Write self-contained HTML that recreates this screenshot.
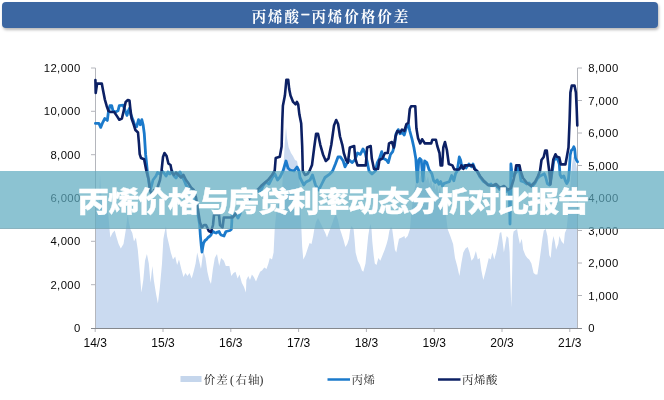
<!DOCTYPE html>
<html lang="zh-CN">
<head>
<meta charset="utf-8">
<title>丙烯价格与房贷利率动态分析对比报告</title>
<style>
html,body{margin:0;padding:0;background:#fff;}
body{width:664px;height:400px;position:relative;overflow:hidden;font-family:"Liberation Sans","Noto Sans CJK SC",sans-serif;}
.hdr{position:absolute;left:2px;top:2px;width:656px;height:26px;background:#3c67a2;border-radius:4px;box-shadow:1px 2px 3px rgba(0,0,0,.28);color:#fff;text-align:center;line-height:31.8px;font-family:"Liberation Serif","Noto Serif CJK SC",serif;font-weight:700;font-size:14.5px;letter-spacing:2px;text-indent:2px;}
.band{position:absolute;left:0;top:171px;width:664px;height:57px;background:rgba(91,169,191,.7);border-bottom:1px solid rgba(110,160,175,.8);background-clip:padding-box;}
.band span{position:absolute;left:0;right:0;top:0;height:58px;line-height:63px;text-align:center;color:#fff;-webkit-text-stroke:.35px #fff;font-weight:900;font-size:28px;letter-spacing:-1.45px;transform:translateX(1px) scaleX(1.13);transform-origin:334px 50%;font-family:"Liberation Sans","Noto Sans CJK SC",sans-serif;white-space:nowrap;}
</style>
</head>
<body>
<div class="hdr">丙烯酸<span style="margin:0 .5px;position:relative;top:-3.8px;-webkit-text-stroke:.5px #fff">–</span>丙烯价格价差</div>
<svg width="664" height="400" viewBox="0 0 664 400" style="position:absolute;left:0;top:0">
<path d="M95.5 205.0 L97.0 200.0 L98.5 203.0 L99.5 190.0 L100.0 174.0 L100.8 190.0 L102.0 201.0 L104.0 198.0 L106.0 204.0 L108.4 215.0 L109.5 229.0 L110.3 237.4 L112.5 233.0 L114.7 230.5 L116.6 237.4 L118.6 244.0 L120.8 248.4 L123.5 244.0 L125.7 230.5 L127.0 220.0 L127.8 214.0 L128.8 222.0 L130.4 229.0 L132.3 233.0 L134.0 241.5 L135.9 237.4 L137.8 249.8 L139.5 269.0 L141.4 292.4 L143.3 280.0 L145.0 260.8 L146.9 253.9 L148.8 263.5 L150.5 282.8 L152.4 266.0 L153.8 280.0 L156.0 293.8 L157.9 303.4 L159.8 288.0 L162.0 263.5 L163.4 238.8 L165.3 229.0 L166.0 226.0 L167.0 236.0 L168.9 244.0 L170.8 252.5 L173.0 259.4 L175.2 256.6 L177.1 264.9 L179.0 259.4 L181.3 269.0 L183.5 277.0 L185.4 273.0 L187.5 275.9 L189.5 273.0 L191.7 278.6 L193.6 271.8 L195.6 263.5 L197.2 252.5 L199.1 260.8 L201.0 269.0 L203.3 251.0 L205.5 258.0 L207.4 271.8 L209.3 280.0 L211.0 284.0 L212.9 269.0 L214.8 258.0 L217.0 253.9 L219.2 266.0 L221.1 258.0 L223.9 260.8 L225.8 266.0 L229.4 266.0 L231.3 275.9 L233.5 273.0 L235.5 271.8 L237.6 278.6 L239.5 274.5 L241.8 282.8 L244.0 286.9 L245.9 292.4 L246.4 280.0 L248.3 275.9 L250.0 280.0 L251.9 274.5 L253.8 277.0 L256.0 281.4 L258.2 275.9 L260.1 271.8 L262.0 270.4 L264.3 267.6 L266.5 269.0 L268.4 263.5 L269.8 258.0 L272.0 259.4 L273.6 252.5 L274.7 229.0 L276.0 215.0 L278.0 205.0 L280.0 200.0 L282.0 190.0 L283.5 165.0 L285.0 140.0 L286.0 127.0 L287.0 138.0 L288.7 147.5 L291.0 153.0 L293.0 156.0 L295.0 160.0 L297.0 161.0 L299.0 171.0 L300.0 190.0 L301.4 229.0 L302.2 247.0 L303.3 259.4 L305.5 255.3 L307.7 248.4 L309.6 242.9 L311.5 244.0 L313.2 236.0 L314.3 229.0 L316.0 222.0 L318.0 218.0 L320.0 222.0 L322.0 226.0 L323.4 229.0 L325.3 233.0 L327.0 237.4 L328.9 232.0 L330.2 229.0 L332.0 224.0 L334.0 218.0 L336.0 214.0 L338.0 220.0 L339.9 229.0 L341.3 233.0 L343.5 240.0 L345.4 247.0 L347.3 244.0 L349.0 238.8 L350.0 230.5 L351.5 226.0 L353.6 229.0 L354.5 238.8 L355.6 252.5 L357.8 260.8 L360.0 264.9 L361.9 270.4 L363.3 271.8 L365.5 263.5 L366.6 252.5 L368.2 236.0 L369.3 229.0 L370.3 224.0 L371.5 229.0 L372.3 241.5 L373.7 255.3 L374.8 263.5 L376.5 264.9 L378.4 258.0 L380.3 260.8 L382.5 255.3 L384.7 249.8 L386.6 244.0 L388.0 238.8 L389.4 230.5 L391.0 227.0 L392.2 229.0 L393.5 238.8 L394.9 249.8 L396.3 252.5 L397.6 245.6 L399.0 238.8 L401.8 237.4 L404.5 236.0 L405.0 238.8 L407.7 236.0 L410.0 229.0 L411.0 216.0 L412.5 203.0 L414.0 192.0 L415.5 184.0 L417.0 177.0 L418.0 187.0 L419.0 179.0 L420.5 175.0 L422.0 185.0 L423.5 178.0 L425.0 174.0 L426.5 181.0 L428.0 176.0 L429.5 184.0 L431.0 178.0 L432.5 187.0 L434.0 181.0 L435.5 190.0 L437.0 184.0 L438.5 193.0 L440.0 187.0 L441.5 197.0 L443.0 191.0 L444.5 204.0 L446.0 215.0 L447.6 229.0 L450.3 236.0 L453.1 244.0 L455.0 258.0 L457.2 266.0 L459.4 275.9 L461.3 263.5 L463.3 252.5 L465.5 248.4 L467.7 247.0 L469.6 252.5 L471.5 260.8 L473.7 258.0 L475.9 251.0 L477.8 259.4 L479.7 258.0 L481.4 270.4 L483.3 280.0 L485.2 273.0 L486.9 266.0 L488.8 258.0 L490.7 259.4 L492.4 252.5 L494.3 259.4 L496.2 252.5 L497.9 244.0 L499.8 233.0 L501.2 232.0 L502.6 241.5 L503.9 252.5 L505.3 244.0 L506.7 236.0 L508.4 238.0 L509.6 252.0 L510.5 285.0 L511.3 307.5 L512.0 280.0 L512.9 236.0 L513.6 231.5 L514.9 230.5 L517.1 229.0 L518.2 236.0 L519.9 244.0 L521.8 238.8 L523.2 249.8 L525.4 255.3 L527.3 258.0 L529.2 259.4 L531.4 263.5 L533.6 273.0 L535.5 274.5 L537.4 274.5 L539.1 263.5 L541.0 249.8 L542.4 238.8 L543.8 230.5 L545.7 229.0 L547.4 236.0 L549.3 255.3 L550.7 258.0 L552.0 244.0 L553.4 236.0 L554.8 241.5 L556.1 249.8 L558.3 244.0 L559.4 236.0 L561.6 241.5 L563.8 244.0 L564.9 233.0 L566.6 229.0 L568.0 215.0 L570.0 190.0 L572.0 165.0 L573.5 156.0 L575.0 160.0 L576.5 166.0 L577.5 172.0 L577.5 328 L95.5 328 Z" fill="#cadaf0"/>
<g stroke="#b4b6bc" stroke-width="1" fill="none">
<path d="M95.5 68 V328 M577.5 68 V328"/>
<path d="M91 328.5 H582" stroke="#85888d"/>
<path d="M91 68.0 H95.5"/>
<path d="M91 111.3 H95.5"/>
<path d="M91 154.7 H95.5"/>
<path d="M91 198.0 H95.5"/>
<path d="M91 241.3 H95.5"/>
<path d="M91 284.7 H95.5"/>
<path d="M577.5 68.0 H582"/>
<path d="M577.5 100.5 H582"/>
<path d="M577.5 133.0 H582"/>
<path d="M577.5 165.5 H582"/>
<path d="M577.5 198.0 H582"/>
<path d="M577.5 230.5 H582"/>
<path d="M577.5 263.0 H582"/>
<path d="M577.5 295.5 H582"/>
<path d="M95.2 329 V332"/>
<path d="M163.0 329 V332"/>
<path d="M230.8 329 V332"/>
<path d="M298.6 329 V332"/>
<path d="M366.4 329 V332"/>
<path d="M434.2 329 V332"/>
<path d="M502.0 329 V332"/>
<path d="M569.8 329 V332"/>
</g>
<path d="M95.4 123.4 L98.9 123.4 L100.7 127.4 L102.8 122.3 L104.8 118.5 L107.3 120.5 L108.4 112.0 L109.9 105.7 L111.7 105.7 L113.0 110.8 L115.5 112.0 L118.0 110.8 L119.3 105.7 L123.2 105.2 L125.2 110.8 L127.0 115.4 L128.3 110.8 L129.5 108.3 L130.8 114.6 L132.9 119.7 L134.6 124.8 L136.7 126.6 L138.5 119.7 L140.3 124.8 L141.8 119.7 L143.1 124.8 L144.3 133.8 L145.6 154.2 L147.4 172.0 L148.6 180.0 L150.0 190.0 L151.5 186.0 L153.0 180.0 L156.0 176.0 L157.5 172.5 L160.0 174.0 L162.0 171.0 L164.0 173.0 L166.0 176.0 L168.0 172.0 L170.0 174.0 L172.0 171.0 L174.0 176.0 L176.0 178.0 L178.0 174.0 L180.0 172.0 L182.0 176.0 L184.0 180.0 L186.0 185.0 L188.0 188.0 L190.0 192.0 L192.0 196.0 L194.0 200.0 L196.0 206.0 L198.0 215.0 L199.6 224.0 L200.4 236.0 L201.2 245.0 L202.0 252.0 L202.8 247.0 L203.6 243.0 L205.0 240.5 L206.5 239.5 L208.0 237.5 L209.5 236.5 L211.0 235.0 L212.0 232.5 L213.0 231.5 L214.5 232.5 L216.0 233.0 L217.5 232.0 L219.0 231.5 L220.0 233.5 L221.0 235.0 L222.5 235.5 L224.0 236.0 L225.0 233.5 L226.0 231.5 L228.0 231.0 L230.0 230.5 L231.3 229.5 L231.8 222.0 L232.0 215.0 L233.0 214.0 L236.0 214.0 L238.0 218.0 L240.0 214.0 L242.0 208.0 L245.0 204.0 L248.0 200.0 L251.0 197.0 L254.0 193.0 L257.0 190.0 L260.0 192.0 L263.0 186.0 L266.0 182.0 L269.0 184.0 L272.0 178.0 L275.0 174.0 L277.5 180.0 L280.0 177.0 L282.5 172.0 L283.0 171.0 L286.0 161.0 L288.0 168.0 L290.0 170.0 L294.0 171.0 L297.0 167.0 L299.0 171.0 L300.0 177.5 L303.8 185.0 L306.0 182.0 L310.0 180.0 L312.5 175.0 L315.5 185.0 L318.8 190.0 L322.5 182.5 L325.0 177.5 L330.0 173.8 L332.6 171.0 L335.4 164.0 L338.0 157.0 L340.5 157.0 L343.2 161.0 L345.0 166.8 L347.0 163.0 L349.3 160.0 L352.0 162.6 L354.8 160.0 L357.5 153.0 L360.3 154.4 L363.0 149.0 L365.2 153.0 L367.0 161.0 L369.0 171.0 L372.0 174.0 L375.4 171.0 L377.3 162.6 L379.5 158.5 L381.7 151.6 L383.6 158.5 L386.4 160.0 L388.3 162.6 L390.5 154.4 L392.7 151.6 L394.6 144.8 L396.0 133.8 L398.2 129.6 L400.0 133.8 L402.0 132.4 L404.3 135.0 L406.5 127.0 L408.4 124.0 L409.8 131.0 L412.0 139.0 L413.9 147.5 L415.8 158.5 L417.3 182.0 L418.8 160.0 L419.8 158.5 L421.3 160.0 L422.9 181.0 L424.6 161.0 L426.8 162.6 L429.0 169.5 L431.9 173.8 L433.7 180.8 L435.4 182.5 L437.2 179.9 L438.9 184.3 L440.7 181.6 L442.4 186.0 L444.2 183.4 L446.8 182.5 L449.4 181.6 L451.7 175.5 L453.8 180.8 L455.5 173.8 L457.2 171.0 L459.3 157.0 L460.6 160.0 L462.0 168.0 L464.2 165.4 L466.1 168.0 L468.9 164.0 L471.6 166.8 L473.0 164.0 L475.2 169.5 L477.0 171.0 L480.0 177.0 L483.0 181.0 L486.0 183.0 L488.6 185.0 L491.0 184.0 L494.0 188.0 L497.0 186.0 L499.5 189.4 L502.0 188.0 L505.0 192.0 L508.0 190.0 L509.4 194.0 L510.0 224.0 L510.5 200.0 L510.9 164.0 L511.7 171.0 L513.0 176.0 L515.0 174.0 L517.3 171.0 L518.1 166.8 L519.5 171.0 L521.0 181.0 L524.0 182.0 L526.6 184.0 L529.0 183.0 L532.0 186.7 L535.0 183.0 L537.4 178.6 L540.0 176.0 L542.0 175.0 L544.3 173.8 L545.8 177.5 L547.3 183.5 L549.5 185.0 L551.0 179.0 L552.5 170.0 L553.7 161.0 L555.5 158.0 L557.8 159.5 L559.3 164.0 L560.0 174.5 L561.5 177.5 L563.8 176.0 L565.3 180.5 L566.8 183.5 L568.3 180.5 L569.3 170.0 L570.2 155.0 L571.3 150.5 L572.8 149.0 L573.8 146.8 L574.7 149.0 L575.5 158.0 L576.5 160.3 L577.5 161.8" fill="none" stroke="#1b7acb" stroke-width="2.8" stroke-linejoin="round" stroke-linecap="round"/>
<path d="M95.4 80.0 L95.7 93.0 L97.1 83.6 L101.8 83.6 L102.8 89.1 L104.8 99.3 L106.6 105.7 L108.4 110.8 L110.4 112.0 L114.2 112.0 L116.8 115.9 L119.3 119.7 L121.9 118.5 L123.7 110.8 L125.7 101.9 L127.8 100.1 L129.5 100.6 L130.3 108.3 L131.6 118.5 L133.4 123.6 L135.4 130.0 L138.0 132.5 L139.0 144.0 L139.7 154.2 L141.0 158.0 L144.1 159.3 L145.6 167.0 L146.6 172.0 L148.8 180.0 L150.0 190.0 L152.0 196.0 L154.0 190.0 L156.0 193.0 L158.0 186.0 L160.0 180.0 L161.5 171.0 L163.0 157.0 L164.5 153.0 L166.6 156.0 L168.4 163.5 L170.5 165.0 L172.0 172.5 L173.8 175.0 L176.0 172.5 L178.5 175.0 L181.0 177.5 L183.5 175.0 L186.0 180.0 L188.8 183.8 L191.0 187.5 L193.8 190.0 L196.0 197.5 L198.0 210.0 L200.0 222.5 L202.0 227.5 L204.0 225.0 L206.0 225.0 L208.8 231.0 L211.0 232.0 L213.0 225.0 L214.0 215.0 L216.0 213.8 L219.0 215.0 L220.0 225.0 L222.5 227.5 L223.8 217.5 L227.5 217.5 L232.5 217.5 L235.0 215.0 L237.5 211.0 L240.0 210.0 L244.0 205.0 L247.0 200.0 L250.0 197.5 L254.0 195.0 L257.5 190.0 L261.0 186.0 L265.0 182.5 L268.0 180.0 L270.0 177.5 L272.0 175.0 L274.7 170.8 L275.7 158.0 L279.8 156.7 L281.6 146.5 L282.3 121.0 L282.9 105.7 L284.9 95.5 L286.4 79.7 L288.2 79.7 L289.2 89.1 L290.5 95.5 L293.1 101.9 L295.6 104.4 L296.9 101.9 L298.2 104.4 L299.4 114.6 L301.2 123.6 L302.2 146.5 L302.8 170.8 L305.0 175.0 L307.5 174.0 L309.5 171.0 L312.0 165.0 L314.2 147.5 L316.1 133.8 L318.0 133.8 L320.3 144.8 L323.0 154.4 L325.8 161.0 L328.5 158.5 L331.3 144.8 L334.0 125.5 L336.2 120.0 L338.1 124.0 L340.0 136.5 L342.3 144.8 L343.8 153.0 L346.0 159.9 L347.9 162.6 L349.8 147.5 L354.2 146.0 L355.3 158.5 L357.5 165.4 L365.8 165.4 L367.1 147.5 L370.7 146.0 L371.8 158.5 L374.0 169.0 L378.0 169.0 L379.5 160.0 L382.3 158.5 L385.0 153.0 L387.8 153.0 L389.0 143.4 L391.9 142.0 L393.8 147.5 L395.5 136.5 L397.4 131.0 L400.0 132.4 L402.0 129.6 L404.3 131.0 L406.5 124.0 L408.4 122.8 L409.8 109.0 L411.1 106.3 L415.3 106.3 L416.4 128.3 L418.0 137.9 L420.2 143.4 L422.1 139.3 L424.9 143.4 L431.2 143.4 L432.3 139.8 L435.9 139.8 L437.3 146.0 L439.5 153.0 L440.6 165.4 L442.2 165.4 L443.3 147.5 L445.0 142.0 L446.9 150.0 L448.8 164.0 L452.4 165.4 L454.3 169.5 L459.3 169.5 L461.5 165.4 L463.4 169.0 L465.3 165.4 L473.0 165.4 L474.4 169.0 L477.0 171.0 L480.0 176.0 L484.0 181.0 L488.0 185.0 L492.0 186.0 L496.0 184.0 L500.0 188.0 L504.0 186.0 L508.0 190.0 L511.0 188.0 L513.5 180.0 L515.4 171.0 L516.2 165.4 L519.5 165.4 L520.6 171.0 L523.0 178.0 L527.0 183.0 L531.0 186.0 L535.0 182.0 L538.0 176.0 L540.0 171.0 L541.5 160.0 L543.7 157.0 L545.2 150.6 L546.8 150.6 L547.8 160.0 L549.2 171.0 L550.5 184.5 L551.8 171.0 L553.3 159.5 L555.5 154.3 L557.0 156.8 L559.3 157.5 L560.8 164.4 L565.4 164.4 L566.8 157.0 L568.5 147.5 L569.6 120.0 L570.4 92.5 L571.8 85.6 L574.5 85.6 L575.9 92.5 L576.7 109.0 L577.3 125.5" fill="none" stroke="#0c2064" stroke-width="2.6" stroke-linejoin="round" stroke-linecap="round"/>
<g font-family="'Liberation Sans', sans-serif" font-size="12" fill="#0a0a0a">
<text x="80.7" y="72.1" text-anchor="end" font-size="11.3" letter-spacing="0.4">12,000</text>
<text x="80.7" y="115.4" text-anchor="end" font-size="11.3" letter-spacing="0.4">10,000</text>
<text x="80.7" y="158.8" text-anchor="end" font-size="11.3" letter-spacing="0.4">8,000</text>
<text x="80.7" y="202.1" text-anchor="end" font-size="11.3" letter-spacing="0.4">6,000</text>
<text x="80.7" y="245.4" text-anchor="end" font-size="11.3" letter-spacing="0.4">4,000</text>
<text x="80.7" y="288.8" text-anchor="end" font-size="11.3" letter-spacing="0.4">2,000</text>
<text x="80.7" y="332.1" text-anchor="end" font-size="11.3" letter-spacing="0.4">0</text>
<text x="588.3" y="72.1" font-size="11.3" letter-spacing="0.4">8,000</text>
<text x="588.3" y="104.6" font-size="11.3" letter-spacing="0.4">7,000</text>
<text x="588.3" y="137.1" font-size="11.3" letter-spacing="0.4">6,000</text>
<text x="588.3" y="169.6" font-size="11.3" letter-spacing="0.4">5,000</text>
<text x="588.3" y="202.1" font-size="11.3" letter-spacing="0.4">4,000</text>
<text x="588.3" y="234.6" font-size="11.3" letter-spacing="0.4">3,000</text>
<text x="588.3" y="267.1" font-size="11.3" letter-spacing="0.4">2,000</text>
<text x="588.3" y="299.6" font-size="11.3" letter-spacing="0.4">1,000</text>
<text x="588.3" y="332.1" font-size="11.3" letter-spacing="0.4">0</text>
<text x="95.2" y="347" text-anchor="middle">14/3</text>
<text x="163.0" y="347" text-anchor="middle">15/3</text>
<text x="230.8" y="347" text-anchor="middle">16/3</text>
<text x="298.6" y="347" text-anchor="middle">17/3</text>
<text x="366.4" y="347" text-anchor="middle">18/3</text>
<text x="434.2" y="347" text-anchor="middle">19/3</text>
<text x="502.0" y="347" text-anchor="middle">20/3</text>
<text x="569.8" y="347" text-anchor="middle">21/3</text>
</g>
<rect x="180.5" y="376" width="21" height="6" fill="#c5d6ec"/>
<path d="M327.5 379.5 H350" stroke="#1b7acb" stroke-width="2.5"/>
<path d="M438 379.5 H460.5" stroke="#0c2064" stroke-width="2.5"/>
<g font-family="'Liberation Serif', 'Noto Serif CJK SC', serif" font-size="11.5" fill="#222">
<text x="203.8 216.3 230 235.5 248 259.5" y="383.5">价差(右轴)</text>
<text x="351.5" y="383.5" letter-spacing="0.5">丙烯</text>
<text x="462" y="383.5" letter-spacing="0.5">丙烯酸</text>
</g>
</svg>
<div class="band"><span>丙烯价格与房贷利率动态分析对比报告</span></div>
</body>
</html>
